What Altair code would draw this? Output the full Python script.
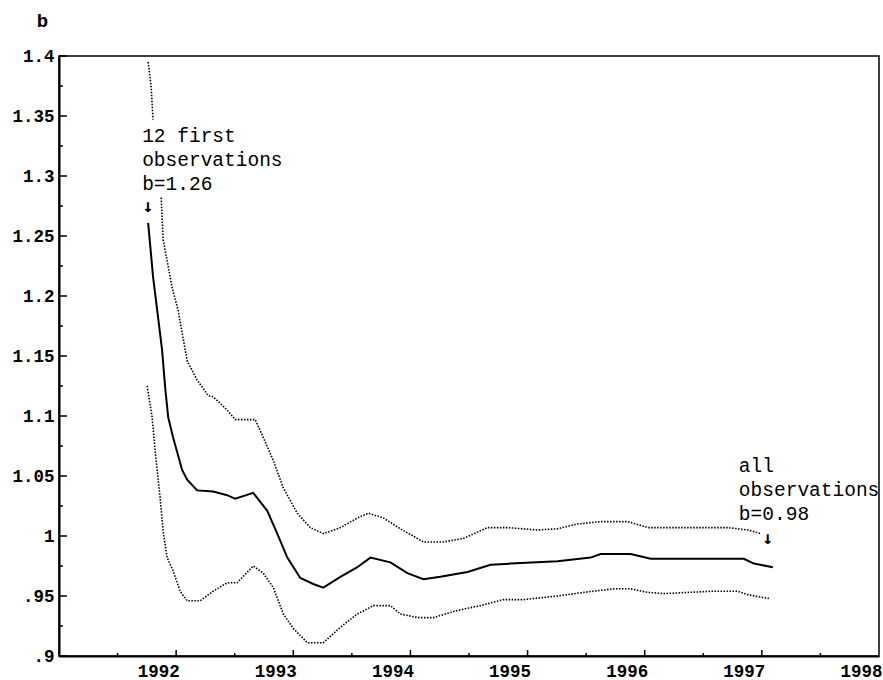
import altair as alt
import pandas as pd

# ---- data ----
mid_years = [1991.761, 1991.803, 1991.846, 1991.880, 1991.906, 1991.932, 1991.974, 1992.051,
             1992.094, 1992.179, 1992.316, 1992.436, 1992.504, 1992.658, 1992.778, 1992.863,
             1992.949, 1993.060, 1993.171, 1993.256, 1993.402, 1993.547, 1993.658, 1993.829,
             1993.974, 1994.111, 1994.256, 1994.487, 1994.684, 1994.855, 1995.256, 1995.538,
             1995.624, 1995.880, 1996.051, 1996.846, 1996.932, 1997.094]
mid_vals = [1.261, 1.216, 1.182, 1.155, 1.124, 1.099, 1.082, 1.055,
            1.047, 1.038, 1.037, 1.034, 1.031, 1.036, 1.021, 1.002,
            0.982, 0.965, 0.960, 0.957, 0.966, 0.974, 0.982, 0.978,
            0.969, 0.964, 0.966, 0.970, 0.976, 0.977, 0.979, 0.982,
            0.985, 0.985, 0.981, 0.981, 0.977, 0.974]

upper_a_years = [1991.761, 1991.786, 1991.803]
upper_a_vals = [1.395, 1.375, 1.347]

upper_b_years = [1991.872, 1991.889, 1991.966, 1992.017, 1992.094, 1992.179, 1992.274, 1992.316,
                 1992.436, 1992.504, 1992.675, 1992.744, 1992.829, 1992.915, 1993.034, 1993.145,
                 1993.256, 1993.402, 1993.547, 1993.641, 1993.769, 1993.915, 1994.111, 1994.282,
                 1994.453, 1994.658, 1994.829, 1995.085, 1995.256, 1995.427, 1995.624, 1995.855,
                 1996.026, 1996.709, 1996.880, 1996.991]
upper_b_vals = [1.282, 1.247, 1.207, 1.188, 1.146, 1.130, 1.117, 1.116,
                1.105, 1.097, 1.097, 1.082, 1.063, 1.040, 1.019, 1.007,
                1.002, 1.007, 1.015, 1.019, 1.015, 1.006, 0.995, 0.995,
                0.998, 1.007, 1.007, 1.005, 1.006, 1.010, 1.012, 1.012,
                1.007, 1.007, 1.005, 1.002]

lower_years = [1991.752, 1991.795, 1991.821, 1991.863, 1991.889, 1991.923, 1991.974, 1992.034,
               1992.094, 1992.205, 1992.316, 1992.436, 1992.521, 1992.658, 1992.744, 1992.829,
               1992.915, 1993.000, 1993.120, 1993.256, 1993.402, 1993.547, 1993.684, 1993.829,
               1993.915, 1994.060, 1994.197, 1994.402, 1994.598, 1994.795, 1994.966, 1995.256,
               1995.479, 1995.735, 1995.880, 1996.026, 1996.162, 1996.590, 1996.795, 1996.880,
               1997.060]
lower_vals = [1.125, 1.099, 1.071, 1.032, 1.004, 0.982, 0.971, 0.954,
              0.946, 0.946, 0.954, 0.961, 0.961, 0.975, 0.969, 0.957,
              0.935, 0.923, 0.911, 0.911, 0.924, 0.935, 0.942, 0.942,
              0.935, 0.932, 0.932, 0.938, 0.942, 0.947, 0.947, 0.950,
              0.953, 0.956, 0.956, 0.953, 0.952, 0.954, 0.954, 0.951,
              0.948]

y_major = [0.9, 0.95, 1.0, 1.05, 1.1, 1.15, 1.2, 1.25, 1.3, 1.35, 1.4]
y_minor = [0.925, 0.975, 1.025, 1.075, 1.125, 1.175, 1.225, 1.275, 1.325, 1.375]
x_major = [1992, 1993, 1994, 1995, 1996, 1997, 1998]
x_minor = [1991.5, 1992.5, 1993.5, 1994.5, 1995.5, 1996.5, 1997.5]

first_label = "12 first\nobservations\nb=1.26"
last_label = "all\nobservations\nb=0.98"
arrow = "\u2193"

# ---- tables ----
rows = []
for name, xs_, vs_ in [("mid", mid_years, mid_vals), ("upper_a", upper_a_years, upper_a_vals),
                       ("upper_b", upper_b_years, upper_b_vals), ("lower", lower_years, lower_vals)]:
    for a, b in zip(xs_, vs_):
        rows.append({"series": name, "year": a, "b": b})
df = pd.DataFrame(rows)

W, H = 820, 600
FONT = "Liberation Mono"

xscale = alt.Scale(domain=[1991, 1998], nice=False, zero=False)
yscale = alt.Scale(domain=[0.9, 1.4], nice=False, zero=False)

xaxis = alt.Axis(values=x_major, labelExpr="format(datum.value, 'd')", ticks=False, grid=False,
                 domain=True, domainColor="black", domainWidth=2, labelAlign="right",
                 labelOffset=3, labelPadding=6, labelFont=FONT, labelFontWeight="bold",
                 labelFontSize=17.5, labelColor="black", title=None, labelFlush=False,
                 labelOverlap=False)
yaxis = alt.Axis(values=y_major,
                 labelExpr="datum.value < 1 ? substring(format(datum.value, '~g'), 1) : format(datum.value, '~g')",
                 ticks=False, grid=False, domain=True, domainColor="black", domainWidth=2,
                 labelPadding=5, labelFont=FONT, labelFontWeight="bold", labelFontSize=17.5,
                 labelColor="black", labelFlush=False, labelOverlap=False,
                 title="b", titleAngle=0, titleX=-17, titleY=-36, titleAlign="center",
                 titleBaseline="middle", titleFont=FONT, titleFontSize=19, titleFontWeight="bold",
                 titleColor="black")

X = alt.X("year:Q", scale=xscale, axis=xaxis)
Y = alt.Y("b:Q", scale=yscale, axis=yaxis)

base = alt.Chart(df)
solid = base.transform_filter("datum.series == 'mid'").mark_line(
    color="black", strokeWidth=2).encode(x=X, y=Y, order="year:Q")
dotted = base.transform_filter("datum.series != 'mid'").mark_line(
    color="black", strokeWidth=1.6, strokeDash=[1.5, 1.5]).encode(
    x=X, y=Y, detail="series:N", order="year:Q")

first_df = pd.DataFrame({"year": [mid_years[0]], "b": [mid_vals[0]], "t": [first_label], "a": [arrow]})
last_df = pd.DataFrame({"year": [mid_years[-1]], "b": [mid_vals[-1]], "t": [last_label], "a": [arrow]})

ann_first = alt.Chart(first_df).mark_text(
    align="left", baseline="alphabetic", lineBreak="\n", lineHeight=24, font=FONT, fontSize=19.5,
    color="black", dx=-6, dy=-81).encode(x=X, y=Y, text="t:N")
arr_first = alt.Chart(first_df).mark_text(
    align="center", baseline="bottom", font="DejaVu Sans Mono", fontWeight="bold", fontSize=18,
    color="black", dx=0, dy=-7).encode(x=X, y=Y, text="a:N")
ann_last = alt.Chart(last_df).mark_text(
    align="left", baseline="alphabetic", lineBreak="\n", lineHeight=24, font=FONT, fontSize=19.5,
    color="black", dx=-34, dy=-95).encode(x=X, y=Y, text="t:N")
arr_last = alt.Chart(last_df).mark_text(
    align="center", baseline="bottom", font="DejaVu Sans Mono", fontWeight="bold", fontSize=18,
    color="black", dx=-5, dy=-19).encode(x=X, y=Y, text="a:N")

tick_ymaj = alt.Chart(pd.DataFrame({"b": y_major})).mark_rule(color="black", strokeWidth=1.5).encode(
    y=Y, x=alt.value(0), x2=alt.value(8))
tick_ymin = alt.Chart(pd.DataFrame({"b": y_minor})).mark_rule(color="black", strokeWidth=1.5).encode(
    y=Y, x=alt.value(0), x2=alt.value(4))
tick_xmaj = alt.Chart(pd.DataFrame({"year": x_major[:-1]})).mark_rule(color="black", strokeWidth=1.5).encode(
    x=X, y=alt.value(H), y2=alt.value(H - 6))
tick_xmin = alt.Chart(pd.DataFrame({"year": x_minor})).mark_rule(color="black", strokeWidth=1.5).encode(
    x=X, y=alt.value(H), y2=alt.value(H - 3))

chart = alt.layer(
    dotted, solid, ann_first, arr_first, ann_last, arr_last,
    tick_ymaj, tick_ymin, tick_xmaj, tick_xmin
).properties(
    width=W, height=H,
    autosize=alt.AutoSizeParams(type="none"),
    padding={"left": 59, "top": 56, "right": 4, "bottom": 24},
    background="white",
).configure_view(stroke="black", strokeWidth=1.5)

chart.save("out.html", embed_options={"renderer": "svg", "actions": False})
